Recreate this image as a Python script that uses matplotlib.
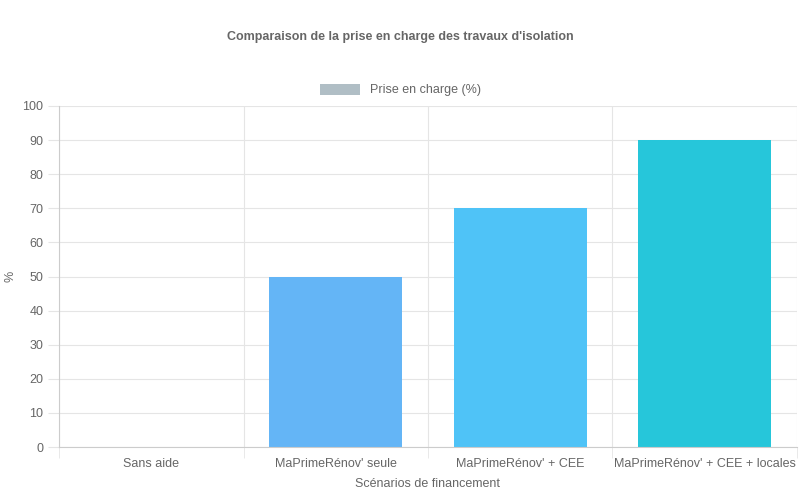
import matplotlib
matplotlib.use("Agg")
import matplotlib.pyplot as plt
from matplotlib.patches import Patch

plt.rcParams["font.family"] = ["Liberation Sans", "DejaVu Sans"]

categories = ["Sans aide", "MaPrimeRénov' seule", "MaPrimeRénov' + CEE", "MaPrimeRénov' + CEE + locales"]
values = [0, 50, 70, 90]
colors = ["#64B5F6", "#64B5F6", "#4FC3F7", "#26C6DA"]
yticks = list(range(0, 101, 10))

fig = plt.figure(figsize=(8, 5), dpi=100)
ax = fig.add_axes([0.074, 0.106, 0.922, 0.682])

x = range(len(categories))
ax.bar(x, values, width=0.72, color=colors, zorder=2)

ax.set_xlim(-0.5, len(categories) - 0.5)
ax.set_ylim(0, 100)
ax.set_yticks(yticks)
ax.set_xticks(list(x))
ax.set_xticklabels(categories)
ax.set_xticks([i + 0.5 for i in range(-1, len(categories))], minor=True)
ax.grid(True, which="minor", axis="x", color="#e5e5e5", lw=0.8)
ax.grid(True, which="major", axis="y", color="#e5e5e5", lw=0.8)
ax.tick_params(axis="x", which="major", length=0, colors="#666666", labelsize=9, pad=8)
ax.tick_params(axis="x", which="minor", length=8, color="#e5e5e5")
ax.tick_params(axis="y", length=8, color="#e5e5e5", labelcolor="#666666", labelsize=9)
for s in ["top", "right"]:
    ax.spines[s].set_visible(False)
for s in ["left", "bottom"]:
    ax.spines[s].set_color("#cccccc")

ax.set_xlabel("Scénarios de financement", color="#666666", fontsize=9, labelpad=6)
ax.set_ylabel("%", color="#666666", fontsize=9)

fig.text(0.5, 0.926, "Comparaison de la prise en charge des travaux d'isolation",
         ha="center", va="center", fontsize=9, fontweight="bold", color="#666666")
fig.legend(handles=[Patch(facecolor="#B0BEC5", label="Prise en charge (%)")],
           loc="center", bbox_to_anchor=(0.5, 0.82), frameon=False,
           fontsize=9, labelcolor="#666666", handlelength=3.2, handleheight=1.0)

fig.savefig("out.png", dpi=100)
